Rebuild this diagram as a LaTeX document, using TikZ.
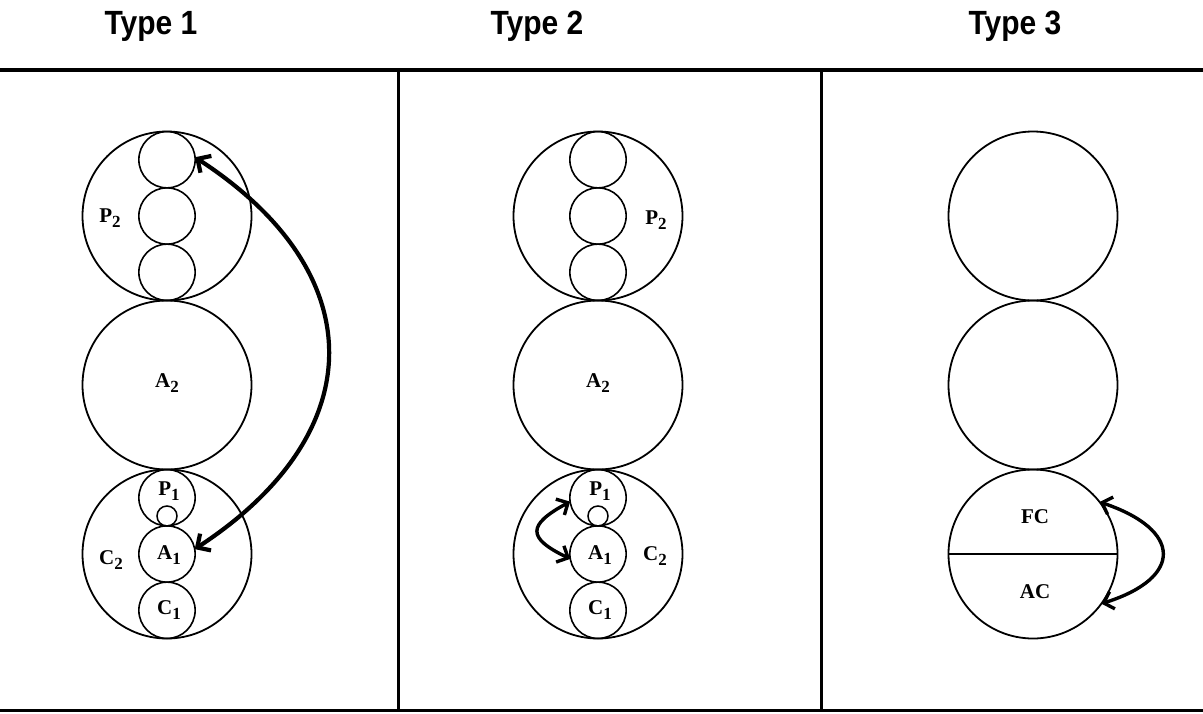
\documentclass[tikz,border=0pt]{standalone}
\usepackage{fontspec}
\setmainfont{Liberation Serif}
\newfontfamily\headfont{Liberation Sans}
\usetikzlibrary{arrows.meta}

% label with a lowered subscript digit
\newcommand\sublbl[2]{#1\raisebox{-5.5pt}{\fontsize{17}{17}\selectfont #2}}
% slightly tall heading lettering
\newcommand\tallhead[1]{\scalebox{1}[1.12]{#1}}

\begin{document}
\begin{tikzpicture}[x=1pt,y=-1pt,
  big/.style={circle,draw,line width=1.8pt,inner sep=0pt,outer sep=0pt,minimum size=169pt},
  small/.style={circle,draw,line width=1.6pt,inner sep=0pt,outer sep=0pt,minimum size=56.3pt},
  tiny/.style={circle,draw,line width=1.5pt,inner sep=0pt,outer sep=0pt,minimum size=20pt},
  lbl/.style={font=\fontsize{21}{21}\selectfont\bfseries,inner sep=0pt},
  head/.style={font=\headfont\fontsize{30}{30}\selectfont\bfseries,anchor=base},
  rulebar/.style={line width=3.5pt},
  link/.style={line width=4.2pt,
    {Straight Barb[length=10pt,width=20pt]}-{Straight Barb[length=10pt,width=20pt]}},
  shortlink/.style={line width=3.4pt,
    {Straight Barb[length=9pt,width=18pt]}-{Straight Barb[length=9pt,width=18pt]}}
]
\useasboundingbox (0,0) rectangle (1203,713);

% headings
\node[head] (h1) at (151,34) {\tallhead{Type 1}};
\node[head] (h2) at (537,34) {\tallhead{Type 2}};
\node[head] (h3) at (1015,34) {\tallhead{Type 3}};

% frame rules
\coordinate (tl) at (0,70);
\coordinate (tr) at (1203,70);
\coordinate (bl) at (0,710);
\coordinate (br) at (1203,710);
\coordinate (v1t) at (398,70);
\coordinate (v1b) at (398,710);
\coordinate (v2t) at (821,70);
\coordinate (v2b) at (821,710);
\draw[rulebar] (tl) -- (tr);
\draw[line width=3pt] (bl) -- (br);
\draw[line width=3pt] (v1t) -- (v1b);
\draw[line width=3pt] (v2t) -- (v2b);

% ---------- Type 1 ----------
\node[big] (P2a) at (167,216) {};
\node[big] (A2a) at (167,385) {};
\node[big] (C2a) at (167,554) {};
\node[small] (Sa1) at (167,159.7) {};
\node[small] (Sa2) at (167,216) {};
\node[small] (Sa3) at (167,272.3) {};
\node[small] (P1a) at (167,497.7) {};
\node[small] (A1a) at (167,554) {};
\node[small] (C1a) at (167,610.3) {};
\node[tiny] (ta) at (167,516) {};
\node[lbl] (lP2a) at (110,218) {\sublbl{P}{2}};
\node[lbl] (lA2a) at (167,383) {\sublbl{A}{2}};
\node[lbl] (lC2a) at (111,560) {\sublbl{C}{2}};
\node[lbl] (lP1a) at (169,491) {\sublbl{P}{1}};
\node[lbl] (lA1a) at (169,555) {\sublbl{A}{1}};
\node[lbl] (lC1a) at (169,610) {\sublbl{C}{1}};
\draw[link] (A1a.10) .. controls (372,433) and (373,273) .. (Sa1.5);

% ---------- Type 2 ----------
\node[big] (P2b) at (598,216) {};
\node[big] (A2b) at (598,385) {};
\node[big] (C2b) at (598,554) {};
\node[small] (Sb1) at (598,159.7) {};
\node[small] (Sb2) at (598,216) {};
\node[small] (Sb3) at (598,272.3) {};
\node[small] (P1b) at (598,497.7) {};
\node[small] (A1b) at (598,554) {};
\node[small] (C1b) at (598,610.3) {};
\node[tiny] (tb) at (598,516) {};
\node[lbl] (lP2b) at (656,220) {\sublbl{P}{2}};
\node[lbl] (lA2b) at (598,383) {\sublbl{A}{2}};
\node[lbl] (lC2b) at (655,556) {\sublbl{C}{2}};
\node[lbl] (lP1b) at (600,491) {\sublbl{P}{1}};
\node[lbl] (lA1b) at (600,555) {\sublbl{A}{1}};
\node[lbl] (lC1b) at (600,610) {\sublbl{C}{1}};
\draw[shortlink] (P1b.188) .. controls (527,525) and (527,538) .. (A1b.190);

% ---------- Type 3 ----------
\node[big] (Ac) at (1033,216) {};
\node[big] (Bc) at (1033,385) {};
\node[big] (Cc) at (1033,554) {};
\coordinate (Cw) at (Cc.west);
\coordinate (Ce) at (Cc.east);
\draw[line width=1.8pt] (Cw) -- (Ce);
\node[lbl] (lFC) at (1035,517) {FC};
\node[lbl] (lAC) at (1035,592) {AC};
\draw[shortlink] (Cc.38) .. controls (1183,530) and (1183,578) .. (Cc.-36);

\end{tikzpicture}
\end{document}
